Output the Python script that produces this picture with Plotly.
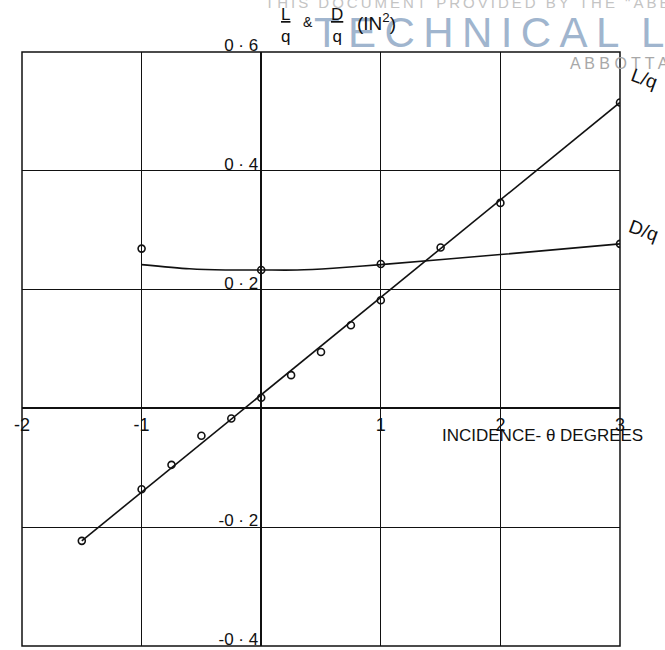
import plotly.graph_objects as go

# ---- data ----
lift_x = [-1.5, -1, -0.75, -0.5, -0.25, 0, 0.25, 0.5, 0.75, 1, 1.5, 2, 3]
lift_y = [-0.223, -0.136, -0.095, -0.046, -0.017, 0.018, 0.056, 0.095, 0.14, 0.182, 0.271, 0.346, 0.515]
lift_fit_x = [-1.5, 3]
lift_fit_y = [-0.223, 0.515]

drag_x = [-1, 0, 1, 3]
drag_y = [0.269, 0.233, 0.243, 0.277]
drag_curve_x = [-1, -0.6, -0.3, 0, 0.3, 0.6, 1, 2, 3]
drag_curve_y = [0.242, 0.235, 0.233, 0.233, 0.233, 0.236, 0.242, 0.259, 0.277]

x_ticks = [-2, -1, 1, 2, 3]
x_tick_text = ["-2", "-1", "1", "2", "3"]
y_ticks = [-0.4, -0.2, 0.2, 0.4, 0.6]
y_tick_text = ["-0 · 4", "-0 · 2", "0 · 2", "0 · 4", "0 · 6"]

X_RANGE = [-2, 3]
Y_RANGE = [-0.4, 0.6]

INK = "#111111"
HAND = "Liberation Sans"

fig = go.Figure()

# lift fit line + points
fig.add_trace(go.Scatter(x=lift_fit_x, y=lift_fit_y, mode="lines",
                         line=dict(color=INK, width=1.6), hoverinfo="skip"))
fig.add_trace(go.Scatter(x=lift_x, y=lift_y, mode="markers",
                         marker=dict(symbol="circle-open", size=7, color=INK,
                                     line=dict(width=1.6))))
# drag curve + points
fig.add_trace(go.Scatter(x=drag_curve_x, y=drag_curve_y, mode="lines",
                         line=dict(color=INK, width=1.6, shape="spline", smoothing=0.8),
                         hoverinfo="skip"))
fig.add_trace(go.Scatter(x=drag_x, y=drag_y, mode="markers",
                         marker=dict(symbol="circle-open", size=7, color=INK,
                                     line=dict(width=1.6))))

x_zero_frac = (0 - X_RANGE[0]) / (X_RANGE[1] - X_RANGE[0])
y_zero_frac = (0 - Y_RANGE[0]) / (Y_RANGE[1] - Y_RANGE[0])

fig.update_layout(
    width=665, height=650,
    margin=dict(l=22, r=45, t=52, b=1),
    paper_bgcolor="white", plot_bgcolor="white",
    showlegend=False,
    xaxis=dict(range=X_RANGE, tickvals=x_ticks, ticktext=x_tick_text,
               showgrid=True, gridcolor=INK, gridwidth=1.1,
               zeroline=True, zerolinecolor=INK, zerolinewidth=2.2,
               showline=False, ticks="", anchor="free", position=y_zero_frac,
               tickfont=dict(family=HAND, size=18, color=INK),
               ticklabelstandoff=4, ticklabeloverflow="allow", fixedrange=True),
    yaxis=dict(range=Y_RANGE, tickvals=y_ticks, ticktext=y_tick_text,
               showgrid=True, gridcolor=INK, gridwidth=1.1,
               zeroline=True, zerolinecolor=INK, zerolinewidth=2.2,
               showline=False, ticks="", anchor="free", position=x_zero_frac,
               tickfont=dict(family=HAND, size=17, color=INK),
               ticklabelshift=-7, ticklabelstandoff=3, ticklabeloverflow="allow",
               fixedrange=True),
)

# outer frame
fig.add_shape(type="rect", xref="paper", yref="paper", x0=0, x1=1, y0=0, y1=1,
              line=dict(color=INK, width=1.5), layer="above")

TS = "\u2009"
# watermark (faint)
fig.add_annotation(xref="paper", yref="paper", x=0.403, y=1.065, xanchor="left", yanchor="bottom",
                   text=TS.join("THIS DOCUMENT PROVIDED BY THE \"ABBOTT AEROSPACE\""),
                   showarrow=False, font=dict(family="Liberation Sans", size=15, color="#c4c4c4"))
fig.add_annotation(xref="paper", yref="paper", x=0.485, y=1.033, xanchor="left", yanchor="middle",
                   text=TS.join("TECHNICAL") + "  " + TS.join("LIBRARY"),
                   showarrow=False, font=dict(family="Liberation Sans", size=42, color="#a0b5ce"))
fig.add_annotation(xref="paper", yref="paper", x=0.913, y=0.98, xanchor="left", yanchor="middle",
                   text=" ".join("ABBOTTAEROSPACE.COM"),
                   showarrow=False, font=dict(family="Liberation Sans", size=16, color="#a8a8a8"))

# y-axis title (fractions)
fig.add_annotation(xref="paper", yref="paper", x=0.440, y=1.045, xanchor="center", yanchor="middle",
                   text="<u>L</u><br>q", showarrow=False,
                   font=dict(family=HAND, size=17, color=INK))
fig.add_annotation(xref="paper", yref="paper", x=0.478, y=1.05, xanchor="center", yanchor="middle",
                   text="&", showarrow=False, font=dict(family=HAND, size=14, color=INK))
fig.add_annotation(xref="paper", yref="paper", x=0.527, y=1.045, xanchor="center", yanchor="middle",
                   text="<u>D</u><br>q", showarrow=False,
                   font=dict(family=HAND, size=17, color=INK))
fig.add_annotation(xref="paper", yref="paper", x=0.592, y=1.05, xanchor="center", yanchor="middle",
                   text="(IN<sup>2</sup>)", showarrow=False,
                   font=dict(family=HAND, size=19, color=INK))

# x-axis title
fig.add_annotation(xref="x", yref="y", x=2.35, y=-0.045, xanchor="center", yanchor="middle",
                   text="INCIDENCE- θ DEGREES", showarrow=False,
                   font=dict(family=HAND, size=17, color=INK))

# curve labels
fig.add_annotation(xref="paper", yref="paper", x=1.04, y=0.955, xanchor="center", yanchor="middle",
                   text="L/q", showarrow=False, textangle=20,
                   font=dict(family=HAND, size=19, color=INK))
fig.add_annotation(xref="paper", yref="paper", x=1.04, y=0.70, xanchor="center", yanchor="middle",
                   text="D/q", showarrow=False, textangle=20,
                   font=dict(family=HAND, size=19, color=INK))

fig.write_html("out.html", config={"displayModeBar": False},
               post_script="document.body.style.margin='0px';document.body.style.overflow='hidden';")
